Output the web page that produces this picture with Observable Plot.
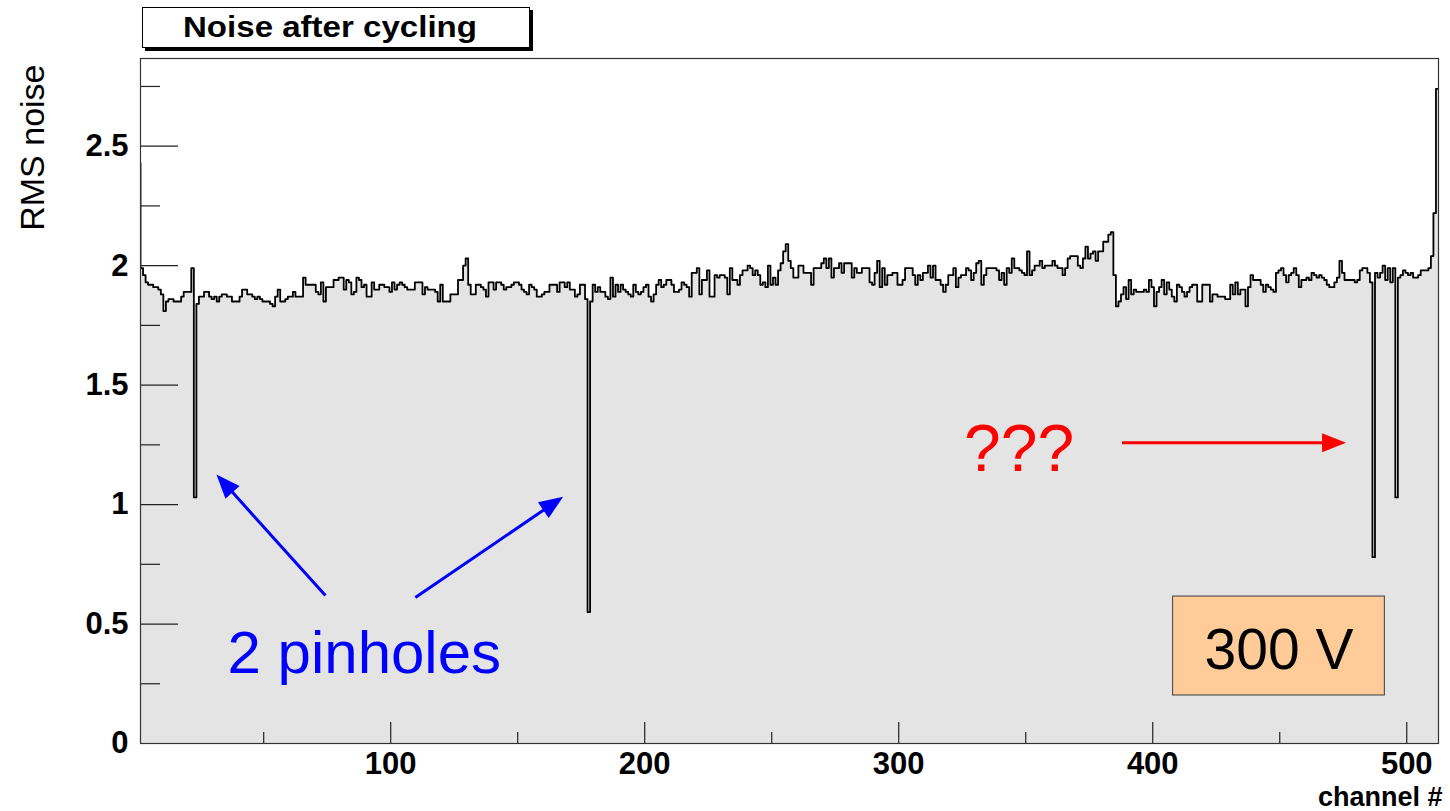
<!DOCTYPE html>
<html>
<head>
<meta charset="utf-8">
<script src="https://cdn.jsdelivr.net/npm/d3@7"></script>
<script src="https://cdn.jsdelivr.net/npm/@observablehq/plot@0.6"></script>
<style>
  html, body { margin: 0; padding: 0; background: #fff; }
  #wrap { position: relative; width: 1450px; height: 811px; overflow: hidden; }
  #wrap svg { position: absolute; left: 0; top: 0; }
  #title {
    position: absolute; left: 142px; top: 7px; width: 386px; height: 39px;
    border: 1.5px solid #000; box-shadow: 3px 3px 0 #000; background: #fff;
  }
  #title span {
    position: absolute; left: 40px; top: 5px; white-space: nowrap;
    font: bold 29px "Liberation Sans", Arial, sans-serif; line-height: 29px; color: #000;
    transform: scaleX(1.14); transform-origin: 0 0;
  }
</style>
</head>
<body>
<div id="wrap">
  <div id="title"><span>Noise after cycling</span></div>
</div>
<script>
// ---- RMS noise per channel (channels 1..512) ----
const noise001_022 = [2.43, 1.99,1.96,1.93,1.92,1.92,1.91,1.91,1.90,1.88,1.81,1.85,1.86,1.86,1.85,1.85,1.85,1.87,1.89,1.89,1.89,1.99];
const noise023_064 = [1.03,
  1.84,1.87,1.87,1.89,1.89,1.87,1.86,1.87,1.85,1.87,
  1.88,1.88,1.87,1.87,1.85,1.85,1.85,1.87,1.90,1.90,
  1.88,1.88,1.87,1.86,1.87,1.86,1.85,1.85,1.85,1.84,
  1.83,1.87,1.90,1.85,1.85,1.86,1.87,1.87,1.89,1.87,
  1.87];
const noise065_128 = [1.87,1.95,1.92,
  1.92,1.92,1.92,1.89,1.88,1.93,1.85,1.91,1.91,1.91,
  1.94,1.94,1.95,1.95,1.90,1.94,1.93,1.88,1.89,1.95,
  1.94,1.91,1.92,1.87,1.87,1.93,1.90,1.90,1.92,1.92,
  1.91,1.91,1.89,1.93,1.90,1.92,1.93,1.92,1.91,1.90,
  1.90,1.90,1.93,1.93,1.93,1.88,1.91,1.90,1.90,1.90,
  1.89,1.85,1.92,1.85,1.85,1.85,1.88,1.88,1.88,1.94,
  1.94];
const noise129_192 = [2.00,2.03,1.92,1.88,1.88,1.92,
  1.92,1.91,1.90,1.87,1.93,1.93,1.90,1.93,1.93,1.92,
  1.90,1.91,1.91,1.92,1.93,1.93,1.92,1.90,1.89,1.88,
  1.92,1.91,1.90,1.87,1.87,1.88,1.89,1.89,1.92,1.92,
  1.92,1.89,1.93,1.93,1.91,1.93,1.90,1.90,1.87,1.88,
  1.92,1.92,1.86,
  0.55,
  1.85,1.92,1.89,1.91,1.89,1.89,1.87,1.86,1.95,1.87,
  1.92,1.89,1.92,1.90];
const noise193_256 = [1.89,1.88,1.87,1.92,1.89,1.88,1.89,
  1.91,1.92,1.87,1.85,
  1.88,1.92,1.94,1.91,1.92,1.94,1.94,1.92,1.89,1.89,
  1.90,1.93,1.92,1.91,1.87,1.97,1.97,1.99,1.88,1.94,
  1.94,1.98,1.87,1.87,1.96,1.95,1.96,1.96,1.95,1.88,
  1.99,1.94,1.94,1.92,1.96,1.98,1.98,2.00,1.99,1.96,
  1.98,1.96,1.92,1.93,1.91,2.00,1.92,1.95,1.92,1.98,
  2.01,2.06,2.09];
const noise257_320 = [2.02,1.99,1.95,1.95,2.00,2.00,1.97,1.97,1.97,1.92,1.99,1.99,
  1.99,2.01,2.03,1.99,2.03,1.95,1.99,1.99,2.01,1.97,
  2.01,2.01,2.01,1.95,1.99,1.97,1.97,1.99,1.99,1.99,
  1.93,1.92,1.97,2.02,1.91,1.99,1.92,1.96,1.96,1.97,
  1.97,1.92,1.92,1.94,1.99,1.99,1.99,1.96,1.92,1.96,
  1.94,1.97,1.97,2.00,1.95,2.00,1.94,1.94,1.92,1.89,
  1.92,1.96];
const noise321_384 = [1.96,1.99,1.91,1.95,1.96,1.96,1.99,1.98,1.94,1.97,2.01,2.02,
  1.92,1.96,1.99,1.99,1.99,1.99,1.98,1.94,1.97,1.92,
  1.99,1.97,2.03,1.99,1.99,1.98,1.97,1.96,2.06,1.96,
  1.98,2.00,2.00,2.02,1.99,2.00,2.00,2.00,2.02,2.00,
  1.99,1.99,1.96,1.99,2.03,2.04,2.04,2.04,2.00,1.99,
  2.03,2.08,2.03,2.05,2.06,2.02,2.06,2.06,2.10,2.10,
  2.13,2.14];
const noise385_448 = [1.96,1.83,1.85,1.88,1.91,1.86,1.94,1.88,1.90,1.89,1.89,1.89,1.90,1.89,1.94,
  1.91,1.83,1.89,1.91,1.94,1.88,1.93,1.90,1.87,1.85,
  1.92,1.91,1.89,1.87,1.89,1.91,1.92,1.92,1.85,1.85,
  1.92,1.92,1.92,1.85,1.88,1.88,1.87,1.87,1.87,1.86,
  1.86,1.92,1.88,1.93,1.88,1.90,1.90,1.83,1.91,1.96,
  1.94,1.94,1.94,1.92,1.89,1.92,1.91,1.90,1.89];
const noise449_512 = [1.97,1.98,1.99,1.96,1.93,1.96,1.97,1.99,1.96,1.91,
  1.94,1.94,1.95,1.94,1.97,1.96,1.95,1.96,
  1.95,1.94,1.92,1.91,1.91,1.93,1.95,2.02,1.97,1.94,
  1.94,1.94,1.94,1.93,1.94,1.98,1.99,1.99,1.97,1.93,
  0.78,1.97,1.95,1.97,2.00,1.94,1.99,1.93,1.99,1.03,
  1.95,1.96,1.98,1.97,1.96,1.97,1.95,1.95,1.96,1.98,
  1.98,1.98,1.99,2.04,2.22,2.74];

// ---- axis ticks ----
const yLabelTicks = [0, 0.5, 1, 1.5, 2, 2.5];
const yMinorTicks = [0.25, 0.75, 1.25, 1.75, 2.25, 2.75];
const xLabelTicks = [100, 200, 300, 400, 500];
const xMinorTicks = [50, 150, 250, 350, 450];

// ---- annotations (data coordinates) ----
const pinholeLabel = [{text: "2 pinholes", x: 89.6, y: 0.297}];
const questionLabel = [{text: "???", x: 347.4, y: 1.142}];
const voltBox = [{x1: 408.0, x2: 491.4, y1: 0.201, y2: 0.615}];
const voltLabel = [{text: "300 V", x: 449.7, y: 0.312}];
const arrows = [
  {x1: 74.3, y1: 0.619, x2: 31.4, y2: 1.126, color: "#0000ff"},
  {x1: 109.7, y1: 0.611, x2: 167.9, y2: 1.033, color: "#0000ff"},
  {x1: 387.9, y1: 1.259, x2: 476.1, y2: 1.259, color: "#ff0000"}
];

// ---- build ----
const rms = [].concat(noise001_022, noise023_064, noise065_128, noise129_192,
  noise193_256, noise257_320, noise321_384, noise385_448, noise449_512);
const channels = rms.map((v, i) => i + 1);
const steps = channels.map((c, i) => ({x: c - 0.5, v: rms[i]}));
steps.push({x: channels[channels.length - 1] + 0.5, v: rms[rms.length - 1]});

const W = 1450, H = 811, mL = 140, mR = 12, mT = 58, mB = 68;
const xDomain = [1.5, 512.5], yDomain = [0, 2.867];
const frameW = W - mL - mR, frameH = H - mT - mB;
const sx = Plot.scale({x: {domain: xDomain, range: [mL, W - mR]}});
const sy = Plot.scale({y: {domain: yDomain, range: [H - mB, mT]}});
const arrowGeom = arrows.map(a => {
  const px1 = sx.apply(a.x1), py1 = sy.apply(a.y1), px2 = sx.apply(a.x2), py2 = sy.apply(a.y2);
  const len = Math.hypot(px2 - px1, py2 - py1);
  const ux = (px2 - px1) / len, uy = (py2 - py1) / len;
  return {...a, ex: sx.invert(px2 - ux * 16), ey: sy.invert(py2 - uy * 16),
          angle: Math.atan2(ux, -uy) * 180 / Math.PI};
});
const arrowHead = {draw(ctx) { ctx.moveTo(0, 0); ctx.lineTo(-9.5, 24); ctx.lineTo(9.5, 24); ctx.closePath(); }};

const font = '"Liberation Sans", Arial, Helvetica, sans-serif';
const plot = Plot.plot({
  width: W, height: H,
  marginLeft: mL, marginRight: mR, marginTop: mT, marginBottom: mB,
  style: {fontFamily: font, background: "transparent", color: "#000"},
  x: {domain: xDomain},
  y: {domain: yDomain},
  color: {type: "identity"},
  marks: [
    Plot.areaY(steps, {x: "x", y: "v", curve: "step-after", fill: "#e4e4e4", clip: true}),
    Plot.lineY(steps, {x: "x", y: "v", curve: "step-after", stroke: "#000", strokeWidth: 1.8, clip: true}),
    Plot.tickY(yLabelTicks, {y: d => d, stroke: "#222", strokeWidth: 1.2, insetRight: frameW - 38}),
    Plot.tickY(yMinorTicks, {y: d => d, stroke: "#222", strokeWidth: 1.2, insetRight: frameW - 20}),
    Plot.tickX(xLabelTicks, {x: d => d, stroke: "#222", strokeWidth: 1.2, insetTop: frameH - 21}),
    Plot.tickX(xMinorTicks, {x: d => d, stroke: "#222", strokeWidth: 1.2, insetTop: frameH - 11}),
    Plot.frame({stroke: "#333", strokeWidth: 1.2}),
    Plot.axisY({ticks: yLabelTicks, tickSize: 0, tickPadding: 12, fontSize: 31, fontWeight: "bold", label: null, tickFormat: d => String(d)}),
    Plot.axisX({ticks: xLabelTicks, tickSize: 0, tickPadding: 8, fontSize: 31, fontWeight: "bold", label: null, tickFormat: d => String(d)}),
    Plot.text(["RMS noise"], {frameAnchor: "top-left", rotate: -90, textAnchor: "end", lineAnchor: "bottom",
      dx: -97, dy: 6, fontSize: 34, fill: "#000"}),
    Plot.text(["channel #"], {frameAnchor: "bottom-right", textAnchor: "end", lineAnchor: "bottom",
      dx: 4, dy: 62, fontSize: 27, fontWeight: "bold", fill: "#000"}),
    Plot.rect(voltBox, {x1: "x1", x2: "x2", y1: "y1", y2: "y2", fill: "#ffcc99", stroke: "#555", strokeWidth: 1.2}),
    Plot.text(voltLabel, {x: "x", y: "y", text: "text", fontSize: 57, lineAnchor: "bottom", fill: "#000"}),
    Plot.text(pinholeLabel, {x: "x", y: "y", text: "text", fontSize: 60, lineAnchor: "bottom", fill: "#0000ff"}),
    Plot.text(questionLabel, {x: "x", y: "y", text: "text", fontSize: 66, lineAnchor: "bottom", fill: "#ff0000"}),
    Plot.link(arrowGeom, {x1: "x1", y1: "y1", x2: "ex", y2: "ey", stroke: "color", strokeWidth: 3}),
    Plot.dot(arrowGeom, {x: "x2", y: "y2", rotate: "angle", symbol: arrowHead, r: 6, fill: "color", stroke: "none"})
  ]
});
document.getElementById("wrap").insertBefore(plot, document.getElementById("title"));
</script>
</body>
</html>
